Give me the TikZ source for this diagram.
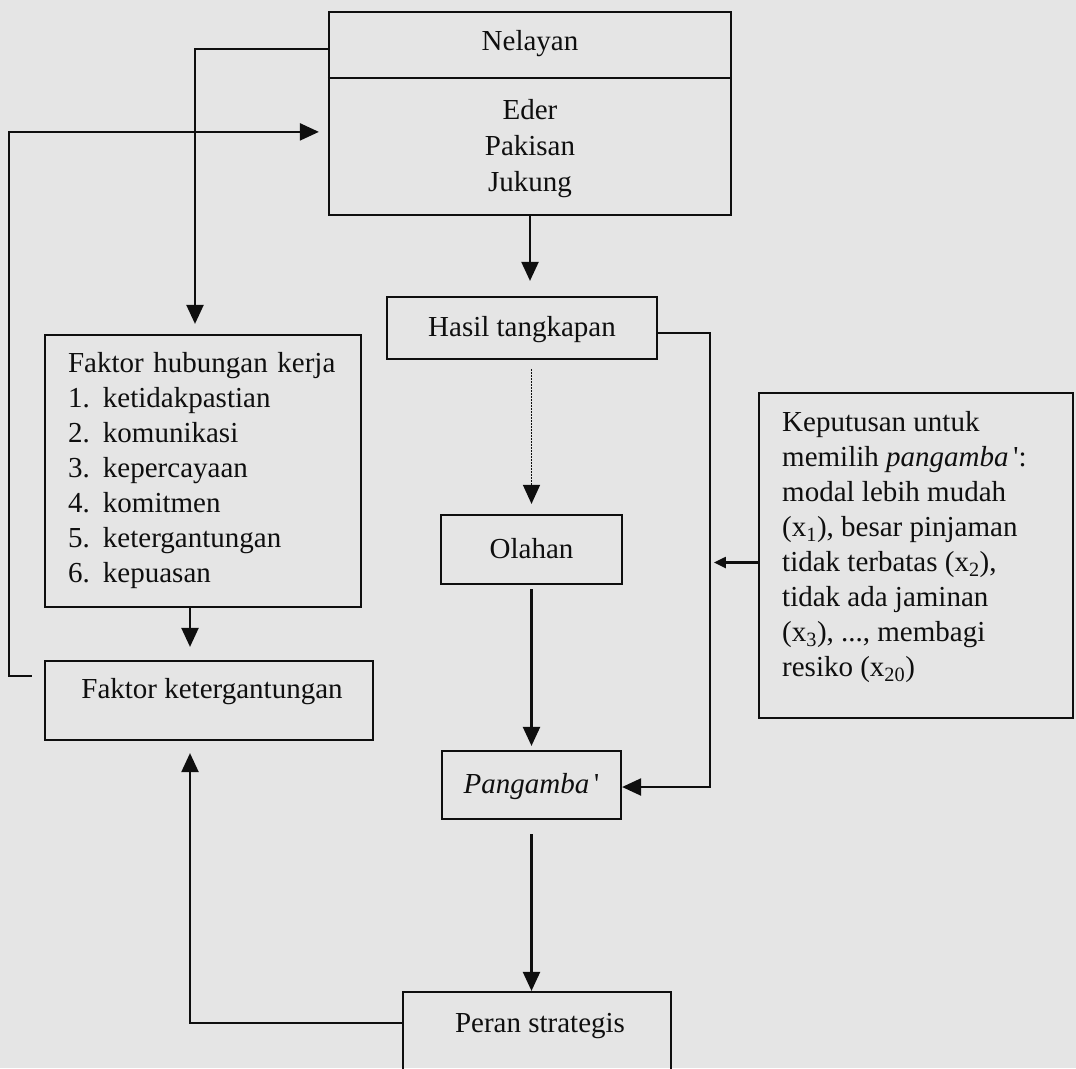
\documentclass[tikz,border=0pt]{standalone}
\usepackage{fontspec}
\setmainfont{Liberation Serif}
\usetikzlibrary{arrows.meta,calc}
\definecolor{bg}{RGB}{229,229,229}
\definecolor{ink}{RGB}{15,15,15}
\begin{document}
\begin{tikzpicture}[x=1pt,y=-1pt,
  box/.style={draw=ink,line width=2.2pt,inner sep=0pt,text=ink,font=\fontsize{29pt}{35pt}\selectfont},
  txt/.style={inner sep=0pt,text=ink,font=\fontsize{29pt}{35pt}\selectfont},
  ln/.style={draw=ink,line width=2.2pt},
  arr/.style={draw=ink,line width=2.2pt,-{Triangle[length=19pt,width=17pt]}},
  sarr/.style={draw=ink,line width=2.2pt,-{Triangle[length=12pt,width=11pt]}},
  dots/.style={line width=1.4pt,dash pattern=on 1.5pt off 1.5pt}]
\fill[bg] (0,0) rectangle (1076,1068);
\useasboundingbox (0,0) rectangle (1076,1068);
\clip (0,0) rectangle (1076,1068);

% boxes
\node[box,minimum width=402pt,minimum height=203pt] (nel) at (530,113.5) {};
\draw[ln] ($(nel.north west)+(0,67)$) -- ($(nel.north east)+(0,67)$);
\node[txt] (nelt) at (530,44) {Nelayan};
\node[txt,align=center,font=\fontsize{29pt}{36pt}\selectfont] (nelb) at (530,149) {Eder\\Pakisan\\Jukung};

\node[box,minimum width=270pt,minimum height=62pt] (has) at (522,328) {};
\node[txt] (hast) at (522,330) {Hasil tangkapan};
\node[box,minimum width=181pt,minimum height=69pt] (ola) at (531.5,549.5) {};
\node[txt] (olat) at (531.5,549) {Olahan};
\node[box,minimum width=179pt,minimum height=68pt] (pan) at (531.5,785) {};
\node[txt] (pant) at (531.5,787) {\textit{Pangamba}\,\textquotesingle};
\node[box,minimum width=268pt,minimum height=100pt] (per) at (537,1042) {};
\node[txt] (pert) at (540,1026) {Peran strategis};

\node[box,minimum width=316pt,minimum height=272pt,text width=270pt,align=left] (hub) at (203,471)
  {Faktor hubungan kerja\\
   \makebox[35pt][l]{1.}ketidakpastian\\
   \makebox[35pt][l]{2.}komunikasi\\
   \makebox[35pt][l]{3.}kepercayaan\\
   \makebox[35pt][l]{4.}komitmen\\
   \makebox[35pt][l]{5.}ketergantungan\\
   \makebox[35pt][l]{6.}kepuasan};

\node[box,minimum width=328pt,minimum height=79pt] (ket) at (209,700.5) {};
\node[txt] (kett) at (212,692) {Faktor ketergantungan};

\node[box,minimum width=314pt,minimum height=325pt] (kep) at (916,555.5) {};
\node[txt,anchor=north west,align=left] (kept) at (782,411)
  {Keputusan untuk\\
   memilih \textit{pangamba}\,\textquotesingle:\\
   modal lebih mudah\\
   (x\textsubscript{1}), besar pinjaman\\
   tidak terbatas (x\textsubscript{2}),\\
   tidak ada jaminan\\
   (x\textsubscript{3}), ..., membagi\\
   resiko (x\textsubscript{20})};

% connectors
\draw[arr,shorten >=15pt] (nel.south) -- (nel.south |- has.north);
\draw[arr,shorten >=10pt] ($(nel.north west)+(0,38)$) -| ($(hub.north)+(-8,0)$);
\draw[arr,shorten >=9pt] ($(ket.north west)+(-12,16)$) -- ++(-23,0) |- ($(nel.north west)+(0,121)$);
\draw[arr] ($(has.east)+(0,5)$) -- ++(52,0) |- ($(pan.east)+(0,2)$);
\draw[sarr] ($(kep.west)+(0,7)$) -- ++(-44,0);
\draw[arr,dots,shorten <=9pt,shorten >=10pt] (ola.north |- has.south) -- (ola.north);
\draw[arr,shorten <=4pt,shorten >=4pt] (ola.south) -- (pan.north);
\draw[arr,shorten <=14pt] (pan.south) -- (pan.south |- per.north);
\draw[arr,shorten >=12pt] ($(per.north west)+(0,32)$) -| ($(ket.south)+(-19,0)$);
\draw[arr,shorten >=13pt] ($(hub.south)+(-13,0)$) -- ($(ket.north)+(-19,0)$);
\end{tikzpicture}
\end{document}
